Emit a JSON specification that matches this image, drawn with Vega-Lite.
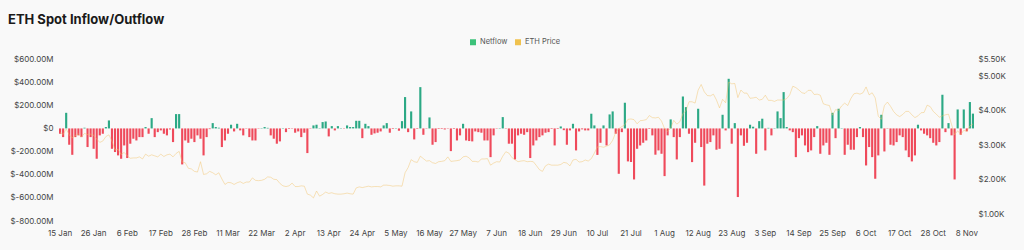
{
"$schema": "https://vega.github.io/schema/vega-lite/v6.json",
"autosize": "none",
"width": 915,
"height": 162,
"padding": {"left": 59, "top": 59, "right": 50, "bottom": 29},
"background": "#f9f9f9",
"title": {"text": "ETH Spot Inflow/Outflow", "anchor": "start", "frame": "group", "dx": -51, "dy": 15, "offset": 16, "baseline": "alphabetic", "fontSize": 13, "font": "Inter", "fontWeight": 700, "color": "#1a1a1a"},
"config": {"view": {"stroke": null}, "font": "Inter"},
"data": {"values": [
{"d":"2025-01-15","n":-46,"p":3370},{"d":"2025-01-16","n":-75,"p":3310},{"d":"2025-01-17","n":135,"p":3470},{"d":"2025-01-18","n":-141,"p":3300},{"d":"2025-01-19","n":-228,"p":3210},{"d":"2025-01-20","n":-75,"p":3280},{"d":"2025-01-21","n":-60,"p":3330},{"d":"2025-01-22","n":-75,"p":3240},{"d":"2025-01-23","n":6,"p":3340},{"d":"2025-01-24","n":-161,"p":3310},{"d":"2025-01-25","n":-75,"p":3320},{"d":"2025-01-26","n":-176,"p":3290},{"d":"2025-01-27","n":-262,"p":3180},{"d":"2025-01-28","n":-60,"p":3080},{"d":"2025-01-29","n":-46,"p":3120},{"d":"2025-01-30","n":12,"p":3250},{"d":"2025-01-31","n":69,"p":3300},
{"d":"2025-02-01","n":-176,"p":3120},{"d":"2025-02-02","n":-204,"p":2860},{"d":"2025-02-03","n":-233,"p":2880},{"d":"2025-02-04","n":-262,"p":2730},{"d":"2025-02-05","n":-147,"p":2790},{"d":"2025-02-06","n":-256,"p":2690},{"d":"2025-02-07","n":-132,"p":2620},{"d":"2025-02-08","n":-89,"p":2630},{"d":"2025-02-09","n":-104,"p":2630},{"d":"2025-02-10","n":-75,"p":2660},{"d":"2025-02-11","n":-75,"p":2600},{"d":"2025-02-12","n":12,"p":2740},{"d":"2025-02-13","n":-46,"p":2680},{"d":"2025-02-14","n":89,"p":2720},{"d":"2025-02-15","n":-75,"p":2690},{"d":"2025-02-16","n":-32,"p":2660},{"d":"2025-02-17","n":-17,"p":2740},{"d":"2025-02-18","n":-46,"p":2670},{"d":"2025-02-19","n":-60,"p":2720},{"d":"2025-02-20","n":-9,"p":2740},{"d":"2025-02-21","n":-118,"p":2660},{"d":"2025-02-22","n":124,"p":2760},{"d":"2025-02-23","n":124,"p":2820},{"d":"2025-02-24","n":-311,"p":2510},{"d":"2025-02-25","n":-104,"p":2490},{"d":"2025-02-26","n":-124,"p":2330},{"d":"2025-02-27","n":-89,"p":2310},{"d":"2025-02-28","n":-118,"p":2240},
{"d":"2025-03-01","n":-60,"p":2220},{"d":"2025-03-02","n":-89,"p":2520},{"d":"2025-03-03","n":-233,"p":2150},{"d":"2025-03-04","n":-75,"p":2170},{"d":"2025-03-05","n":-6,"p":2240},{"d":"2025-03-06","n":46,"p":2200},{"d":"2025-03-07","n":12,"p":2140},{"d":"2025-03-08","n":6,"p":2200},{"d":"2025-03-09","n":-161,"p":2020},{"d":"2025-03-10","n":-104,"p":1860},{"d":"2025-03-11","n":-46,"p":1920},{"d":"2025-03-12","n":32,"p":1910},{"d":"2025-03-13","n":-26,"p":1860},{"d":"2025-03-14","n":40,"p":1910},{"d":"2025-03-15","n":-17,"p":1940},{"d":"2025-03-16","n":-60,"p":1890},{"d":"2025-03-17","n":-3,"p":1930},{"d":"2025-03-18","n":-75,"p":1930},{"d":"2025-03-19","n":-104,"p":2050},{"d":"2025-03-20","n":-104,"p":1980},{"d":"2025-03-21","n":-3,"p":1970},{"d":"2025-03-22","n":3,"p":1980},{"d":"2025-03-23","n":12,"p":2010},{"d":"2025-03-24","n":5,"p":2080},{"d":"2025-03-25","n":-60,"p":2070},{"d":"2025-03-26","n":-89,"p":2010},{"d":"2025-03-27","n":-132,"p":2000},{"d":"2025-03-28","n":-112,"p":1890},{"d":"2025-03-29","n":3,"p":1820},{"d":"2025-03-30","n":-32,"p":1800},{"d":"2025-03-31","n":-5,"p":1820},
{"d":"2025-04-01","n":-3,"p":1900},{"d":"2025-04-02","n":-37,"p":1800},{"d":"2025-04-03","n":-26,"p":1800},{"d":"2025-04-04","n":-75,"p":1820},{"d":"2025-04-05","n":-37,"p":1810},{"d":"2025-04-06","n":-213,"p":1580},{"d":"2025-04-07","n":-3,"p":1550},{"d":"2025-04-08","n":26,"p":1470},{"d":"2025-04-09","n":32,"p":1670},{"d":"2025-04-10","n":3,"p":1520},{"d":"2025-04-11","n":55,"p":1570},{"d":"2025-04-12","n":60,"p":1640},{"d":"2025-04-13","n":-69,"p":1600},{"d":"2025-04-14","n":20,"p":1620},{"d":"2025-04-15","n":-17,"p":1590},{"d":"2025-04-16","n":20,"p":1580},{"d":"2025-04-17","n":3,"p":1580},{"d":"2025-04-18","n":-3,"p":1590},{"d":"2025-04-19","n":26,"p":1610},{"d":"2025-04-20","n":12,"p":1590},{"d":"2025-04-21","n":12,"p":1580},{"d":"2025-04-22","n":66,"p":1760},{"d":"2025-04-23","n":66,"p":1790},{"d":"2025-04-24","n":-84,"p":1770},{"d":"2025-04-25","n":40,"p":1790},{"d":"2025-04-26","n":20,"p":1810},{"d":"2025-04-27","n":-55,"p":1790},{"d":"2025-04-28","n":-43,"p":1800},{"d":"2025-04-29","n":-37,"p":1800},{"d":"2025-04-30","n":-26,"p":1790},
{"d":"2025-05-01","n":26,"p":1840},{"d":"2025-05-02","n":46,"p":1840},{"d":"2025-05-03","n":-37,"p":1830},{"d":"2025-05-04","n":-5,"p":1810},{"d":"2025-05-05","n":3,"p":1820},{"d":"2025-05-06","n":-20,"p":1820},{"d":"2025-05-07","n":63,"p":1810},{"d":"2025-05-08","n":271,"p":2200},{"d":"2025-05-09","n":-32,"p":2350},{"d":"2025-05-10","n":147,"p":2580},{"d":"2025-05-11","n":-95,"p":2520},{"d":"2025-05-12","n":-5,"p":2500},{"d":"2025-05-13","n":357,"p":2680},{"d":"2025-05-14","n":-55,"p":2610},{"d":"2025-05-15","n":-3,"p":2540},{"d":"2025-05-16","n":95,"p":2550},{"d":"2025-05-17","n":-141,"p":2490},{"d":"2025-05-18","n":-118,"p":2470},{"d":"2025-05-19","n":-5,"p":2520},{"d":"2025-05-20","n":-5,"p":2530},{"d":"2025-05-21","n":-9,"p":2550},{"d":"2025-05-22","n":-3,"p":2660},{"d":"2025-05-23","n":-196,"p":2530},{"d":"2025-05-24","n":-5,"p":2540},{"d":"2025-05-25","n":-104,"p":2550},{"d":"2025-05-26","n":-60,"p":2570},{"d":"2025-05-27","n":40,"p":2660},{"d":"2025-05-28","n":-104,"p":2680},{"d":"2025-05-29","n":-109,"p":2630},{"d":"2025-05-30","n":-112,"p":2530},{"d":"2025-05-31","n":-26,"p":2530},
{"d":"2025-06-01","n":-32,"p":2510},{"d":"2025-06-02","n":-37,"p":2600},{"d":"2025-06-03","n":-104,"p":2600},{"d":"2025-06-04","n":-104,"p":2610},{"d":"2025-06-05","n":-248,"p":2420},{"d":"2025-06-06","n":-60,"p":2480},{"d":"2025-06-07","n":-3,"p":2520},{"d":"2025-06-08","n":3,"p":2510},{"d":"2025-06-09","n":98,"p":2680},{"d":"2025-06-10","n":-3,"p":2810},{"d":"2025-06-11","n":-132,"p":2770},{"d":"2025-06-12","n":-132,"p":2640},{"d":"2025-06-13","n":-268,"p":2580},{"d":"2025-06-14","n":-60,"p":2520},{"d":"2025-06-15","n":-46,"p":2540},{"d":"2025-06-16","n":-55,"p":2550},{"d":"2025-06-17","n":-32,"p":2520},{"d":"2025-06-18","n":-256,"p":2530},{"d":"2025-06-19","n":-147,"p":2520},{"d":"2025-06-20","n":-104,"p":2410},{"d":"2025-06-21","n":-75,"p":2290},{"d":"2025-06-22","n":-60,"p":2240},{"d":"2025-06-23","n":-37,"p":2400},{"d":"2025-06-24","n":-32,"p":2450},{"d":"2025-06-25","n":-5,"p":2420},{"d":"2025-06-26","n":-147,"p":2420},{"d":"2025-06-27","n":-5,"p":2420},{"d":"2025-06-28","n":17,"p":2440},{"d":"2025-06-29","n":-15,"p":2500},{"d":"2025-06-30","n":-141,"p":2480},
{"d":"2025-07-01","n":-17,"p":2400},{"d":"2025-07-02","n":40,"p":2570},{"d":"2025-07-03","n":-190,"p":2590},{"d":"2025-07-04","n":-26,"p":2510},{"d":"2025-07-05","n":-8,"p":2520},{"d":"2025-07-06","n":-17,"p":2570},{"d":"2025-07-07","n":-17,"p":2540},{"d":"2025-07-08","n":127,"p":2610},{"d":"2025-07-09","n":26,"p":2770},{"d":"2025-07-10","n":-229,"p":2950},{"d":"2025-07-11","n":-124,"p":2960},{"d":"2025-07-12","n":26,"p":2940},{"d":"2025-07-13","n":-147,"p":2970},{"d":"2025-07-14","n":121,"p":3010},{"d":"2025-07-15","n":147,"p":3140},{"d":"2025-07-16","n":-46,"p":3370},{"d":"2025-07-17","n":-392,"p":3480},{"d":"2025-07-18","n":-32,"p":3540},{"d":"2025-07-19","n":222,"p":3590},{"d":"2025-07-20","n":-285,"p":3750},{"d":"2025-07-21","n":-290,"p":3760},{"d":"2025-07-22","n":-441,"p":3740},{"d":"2025-07-23","n":-176,"p":3620},{"d":"2025-07-24","n":-147,"p":3710},{"d":"2025-07-25","n":-124,"p":3720},{"d":"2025-07-26","n":-104,"p":3740},{"d":"2025-07-27","n":-5,"p":3860},{"d":"2025-07-28","n":-60,"p":3800},{"d":"2025-07-29","n":-227,"p":3790},{"d":"2025-07-30","n":-190,"p":3810},{"d":"2025-07-31","n":-219,"p":3700},
{"d":"2025-08-01","n":-412,"p":3480},{"d":"2025-08-02","n":-60,"p":3400},{"d":"2025-08-03","n":78,"p":3490},{"d":"2025-08-04","n":-75,"p":3720},{"d":"2025-08-05","n":-268,"p":3610},{"d":"2025-08-06","n":-75,"p":3680},{"d":"2025-08-07","n":276,"p":3910},{"d":"2025-08-08","n":184,"p":4000},{"d":"2025-08-09","n":-46,"p":4260},{"d":"2025-08-10","n":-291,"p":4260},{"d":"2025-08-11","n":-124,"p":4220},{"d":"2025-08-12","n":170,"p":4600},{"d":"2025-08-13","n":-161,"p":4760},{"d":"2025-08-14","n":-494,"p":4550},{"d":"2025-08-15","n":-132,"p":4440},{"d":"2025-08-16","n":-118,"p":4430},{"d":"2025-08-17","n":-60,"p":4480},{"d":"2025-08-18","n":-184,"p":4310},{"d":"2025-08-19","n":-176,"p":4080},{"d":"2025-08-20","n":118,"p":4330},{"d":"2025-08-21","n":-17,"p":4230},{"d":"2025-08-22","n":429,"p":4830},{"d":"2025-08-23","n":-132,"p":4780},{"d":"2025-08-24","n":46,"p":4790},{"d":"2025-08-25","n":-593,"p":4380},{"d":"2025-08-26","n":-60,"p":4600},{"d":"2025-08-27","n":-150,"p":4510},{"d":"2025-08-28","n":-124,"p":4510},{"d":"2025-08-29","n":32,"p":4360},{"d":"2025-08-30","n":15,"p":4370},{"d":"2025-08-31","n":-219,"p":4390},
{"d":"2025-09-01","n":63,"p":4310},{"d":"2025-09-02","n":84,"p":4330},{"d":"2025-09-03","n":-190,"p":4450},{"d":"2025-09-04","n":5,"p":4300},{"d":"2025-09-05","n":-60,"p":4300},{"d":"2025-09-06","n":3,"p":4270},{"d":"2025-09-07","n":147,"p":4310},{"d":"2025-09-08","n":89,"p":4310},{"d":"2025-09-09","n":314,"p":4310},{"d":"2025-09-10","n":12,"p":4350},{"d":"2025-09-11","n":-17,"p":4460},{"d":"2025-09-12","n":-32,"p":4710},{"d":"2025-09-13","n":-248,"p":4670},{"d":"2025-09-14","n":-84,"p":4600},{"d":"2025-09-15","n":-60,"p":4520},{"d":"2025-09-16","n":-147,"p":4500},{"d":"2025-09-17","n":-205,"p":4590},{"d":"2025-09-18","n":-190,"p":4590},{"d":"2025-09-19","n":-75,"p":4470},{"d":"2025-09-20","n":20,"p":4480},{"d":"2025-09-21","n":-219,"p":4450},{"d":"2025-09-22","n":-147,"p":4200},{"d":"2025-09-23","n":-124,"p":4170},{"d":"2025-09-24","n":-228,"p":4150},{"d":"2025-09-25","n":135,"p":3870},{"d":"2025-09-26","n":-84,"p":4030},{"d":"2025-09-27","n":170,"p":4010},{"d":"2025-09-28","n":3,"p":4140},{"d":"2025-09-29","n":-228,"p":4220},{"d":"2025-09-30","n":-141,"p":4150},
{"d":"2025-10-01","n":-184,"p":4350},{"d":"2025-10-02","n":-184,"p":4490},{"d":"2025-10-03","n":-75,"p":4510},{"d":"2025-10-04","n":12,"p":4480},{"d":"2025-10-05","n":-75,"p":4520},{"d":"2025-10-06","n":-320,"p":4690},{"d":"2025-10-07","n":-161,"p":4460},{"d":"2025-10-08","n":-248,"p":4520},{"d":"2025-10-09","n":-435,"p":4370},{"d":"2025-10-10","n":-233,"p":3840},{"d":"2025-10-11","n":118,"p":3750},{"d":"2025-10-12","n":-199,"p":4150},{"d":"2025-10-13","n":-3,"p":4250},{"d":"2025-10-14","n":-141,"p":4130},{"d":"2025-10-15","n":-147,"p":3980},{"d":"2025-10-16","n":-118,"p":3880},{"d":"2025-10-17","n":-60,"p":3830},{"d":"2025-10-18","n":-75,"p":3890},{"d":"2025-10-19","n":-190,"p":3980},{"d":"2025-10-20","n":-248,"p":3980},{"d":"2025-10-21","n":-285,"p":3880},{"d":"2025-10-22","n":-233,"p":3800},{"d":"2025-10-23","n":32,"p":3850},{"d":"2025-10-24","n":-17,"p":3940},{"d":"2025-10-25","n":-46,"p":3950},{"d":"2025-10-26","n":-60,"p":4160},{"d":"2025-10-27","n":-84,"p":4120},{"d":"2025-10-28","n":-124,"p":3980},{"d":"2025-10-29","n":-147,"p":3900},{"d":"2025-10-30","n":-118,"p":3810},{"d":"2025-10-31","n":291,"p":3850},
{"d":"2025-11-01","n":-32,"p":3880},{"d":"2025-11-02","n":46,"p":3900},{"d":"2025-11-03","n":-60,"p":3600},{"d":"2025-11-04","n":-441,"p":3300},{"d":"2025-11-05","n":164,"p":3420},{"d":"2025-11-06","n":-55,"p":3310},{"d":"2025-11-07","n":164,"p":3430},{"d":"2025-11-08","n":-25,"p":3400},{"d":"2025-11-09","n":228,"p":3560},{"d":"2025-11-10","n":127.82,"p":3613.72}
]},
"encoding": {
  "x": {"field": "d", "type": "ordinal", "sort": null,
    "scale": {"paddingInner": 0.3, "paddingOuter": 0},
    "axis": {"title": null, "labelAngle": 0, "ticks": false, "domain": false, "grid": false,
      "values": ["2025-01-15","2025-01-26","2025-02-06","2025-02-17","2025-02-28","2025-03-11","2025-03-22","2025-04-02","2025-04-13","2025-04-24","2025-05-05","2025-05-16","2025-05-27","2025-06-07","2025-06-18","2025-06-29","2025-07-10","2025-07-21","2025-08-01","2025-08-12","2025-08-23","2025-09-03","2025-09-14","2025-09-25","2025-10-06","2025-10-17","2025-10-28","2025-11-08"],
      "labelExpr": "utcFormat(toDate(datum.value), '%-d %b')",
      "labelFontSize": 8, "labelColor": "#444444", "labelPadding": 8, "labelOverlap": false}}
},
"layer": [
  {"mark": {"type": "bar"},
   "encoding": {
     "y": {"field": "n", "type": "quantitative", "scale": {"domain": [-800, 600], "nice": false},
       "axis": {"title": null, "values": [-800,-600,-400,-200,0,200,400,600], "ticks": false, "domain": false,
         "grid": false,
         "labelExpr": "datum.value == 0 ? '$0' : (datum.value < 0 ? '$-' : '$') + format(abs(datum.value), '.2f') + 'M'",
         "labelFontSize": 8, "labelColor": "#444444", "labelPadding": 6}},
     "color": {"condition": {"test": "datum.n < 0", "value": "#ef4a5b"}, "value": "#2ca985"}}},
  {"mark": {"type": "line", "strokeWidth": 1, "opacity": 0.45, "color": "#f2c266"},
   "encoding": {
     "y": {"field": "p", "type": "quantitative", "scale": {"domain": [800, 5500], "nice": false},
       "axis": {"orient": "right", "title": null, "values": [1000,2000,3000,4000,5000,5500], "ticks": false, "domain": false, "grid": false,
         "labelExpr": "'$' + format(datum.value / 1000, '.2f') + 'K'",
         "labelFontSize": 8, "labelColor": "#444444", "labelPadding": 4}}}},
  {"transform": [{"filter": "datum.d == '2025-01-15'"}],
   "mark": {"type": "square", "opacity": 0},
   "encoding": {"color": {"datum": "Netflow", "scale": {"domain": ["Netflow", "ETH Price"], "range": ["#3cc27a", "#f0c24e"]},
     "legend": {"orient": "none", "legendX": 410, "legendY": -21, "direction": "horizontal", "title": null,
       "symbolType": "square", "symbolSize": 36, "symbolOpacity": 1, "labelFontSize": 7.5, "labelColor": "#555555", "columnPadding": 6, "labelOffset": 3}}}},
  {"transform": [{"filter": "datum.d == '2025-01-15'"}],
   "mark": {"type": "square", "opacity": 0},
   "encoding": {"color": {"datum": "ETH Price"}}}
],
"resolve": {"scale": {"y": "independent"}}
}
